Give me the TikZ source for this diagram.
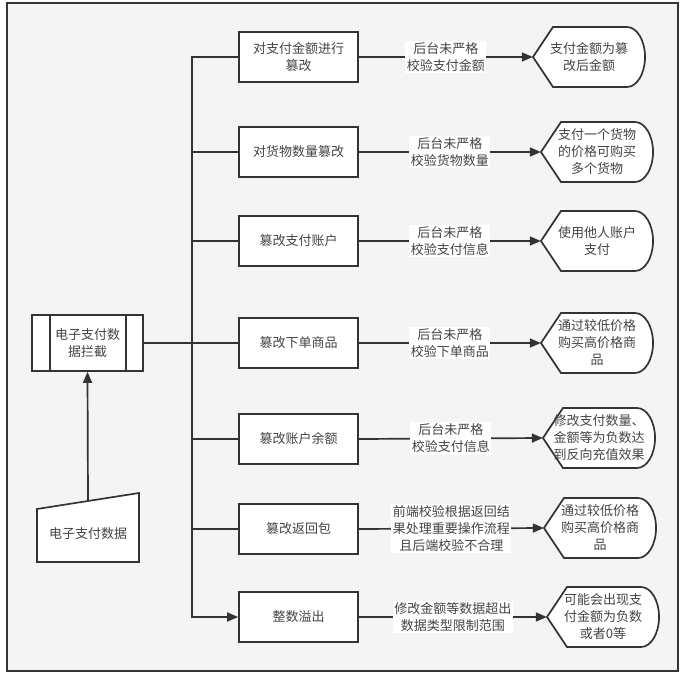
\documentclass[tikz,border=0pt]{standalone}
\usepackage{fontspec}
\setmainfont{Noto Sans CJK SC}
\usetikzlibrary{arrows.meta}

\definecolor{linegray}{HTML}{333333}
\definecolor{txtgray}{HTML}{444444}
\definecolor{bggray}{HTML}{F4F4F4}

% display shape: pointed left end, rounded right end
\newcommand{\outcome}[4]{%
  \path[shapeline] (#2-56,#3) -- (#2-36,#3-30) -- (#2+38,#3-30)
    arc[start angle=-90, end angle=90, x radius=18, y radius=30]
    -- (#2-36,#3+30) -- cycle;
  \node[outtext] (#1) at (#2,#3) {#4};}

\begin{document}
\begin{tikzpicture}[x=1pt, y=-1pt, font=\fontsize{13}{17}\selectfont, text=txtgray,
    conn/.style={draw=linegray, line width=1.7pt},
    arr/.style={conn, -{Triangle[length=11pt,width=9pt]}},
    shapeline/.style={draw=linegray, line width=1.7pt, fill=white},
    attack/.style={shapeline, rectangle, minimum width=119pt, minimum height=50pt, align=center},
    outtext/.style={minimum width=112pt, minimum height=60pt, align=center, inner sep=0pt},
    reason/.style={fill=white, align=center, inner sep=1.5pt}]
\useasboundingbox (0,0) rectangle (685,677);
\draw[fill=bggray, draw=linegray, line width=1.3pt] (7,3) rectangle (678,671);

% source
\node[shapeline, minimum width=111pt, minimum height=56pt, align=center] (src) at (87.5,343) {电子支付数\\据拦截};
\draw[conn] ([xshift=19pt]src.north west) -- ([xshift=19pt]src.south west);
\draw[conn] ([xshift=-18pt]src.north east) -- ([xshift=-18pt]src.south east);

\path[shapeline] (37,509) -- (139,493) -- (139,562) -- (37,562) -- cycle;
\node (data) at (88,534) {电子支付数据};
\coordinate (datatop) at (88,501);
\draw[arr] (datatop) -- (src.south);

% attacks
\node[attack] (p1) at (298.5,57) {对支付金额进行\\篡改};
\node[attack] (p2) at (298.5,152) {对货物数量篡改};
\node[attack] (p3) at (298.5,241) {篡改支付账户};
\node[attack] (p4) at (298.5,343) {篡改下单商品};
\node[attack] (p5) at (298.5,439) {篡改账户余额};
\node[attack] (p6) at (298.5,529) {篡改返回包};
\node[attack] (p7) at (298.5,617) {整数溢出};

\coordinate (fork) at (192,343);
\draw[conn] (src.east) -- (fork);
\foreach \i in {1,...,6}
  \draw[conn] (fork) |- (p\i.west);
\draw[arr] (fork) |- (p7.west);

% results
\outcome{r1}{589}{57}{支付金额为篡\\改后金额}
\outcome{r2}{597}{152}{支付一个货物\\的价格可购买\\多个货物}
\outcome{r3}{597}{241}{使用他人账户\\支付}
\outcome{r4}{597}{343}{通过较低价格\\购买高价格商\\品}
\outcome{r5}{599}{438}{修改支付数量、\\金额等为负数达\\到反向充值效果}
\outcome{r6}{600}{528}{通过较低价格\\购买高价格商\\品}
\outcome{r7}{603}{617}{可能会出现支\\付金额为负数\\或者0等}

\draw[arr] (p1.east) -- node[reason] {后台未严格\\校验支付金额} (r1.west);
\draw[arr] (p2.east) -- node[reason] {后台未严格\\校验货物数量} (r2.west);
\draw[arr] (p3.east) -- node[reason] {后台未严格\\校验支付信息} (r3.west);
\draw[arr] (p4.east) -- node[reason] {后台未严格\\校验下单商品} (r4.west);
\draw[arr] (p5.east) -- node[reason] {后台未严格\\校验支付信息} (r5.west);
\draw[arr] (p6.east) -- node[reason] {前端校验根据返回结\\果处理重要操作流程\\且后端校验不合理} (r6.west);
\draw[arr] (p7.east) -- node[reason] {修改金额等数据超出\\数据类型限制范围} (r7.west);
\end{tikzpicture}
\end{document}
